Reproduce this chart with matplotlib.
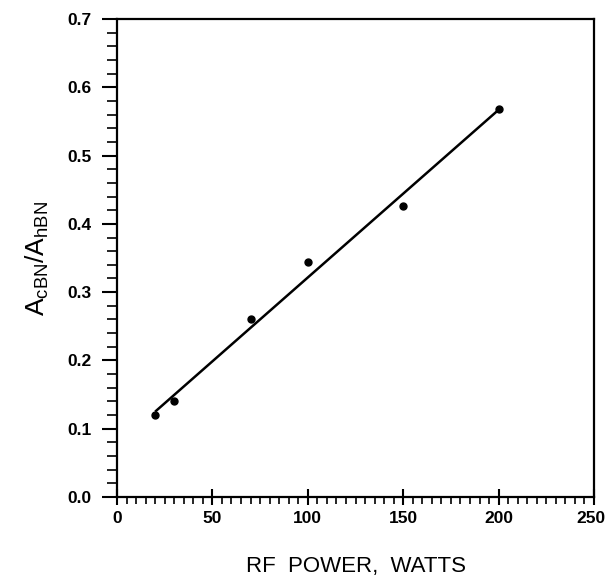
import matplotlib
matplotlib.use("Agg")
import matplotlib.pyplot as plt
import matplotlib.transforms as mtransforms
from matplotlib.ticker import MultipleLocator

rf_power = [20, 30, 70, 100, 150, 200]
ratio = [0.120, 0.140, 0.260, 0.344, 0.426, 0.568]
fit_x = [20, 200]
fit_y = [0.125, 0.567]

x_ticks = [0, 50, 100, 150, 200, 250]
y_ticks = [0.0, 0.1, 0.2, 0.3, 0.4, 0.5, 0.6, 0.7]

plt.rcParams['font.family'] = ['Liberation Sans', 'DejaVu Sans']

fig = plt.figure(figsize=(6.07, 5.82), dpi=100)
ax = fig.add_axes([117/607, 1-497/582, (594-117)/607, (497-19)/582])

ax.plot(fit_x, fit_y, color='black', lw=1.8, solid_capstyle='butt')
ax.plot(rf_power, ratio, 'o', color='black', ms=5)

ax.set_xlim(0, 250)
ax.set_ylim(0, 0.7)
ax.set_xticks(x_ticks)
ax.set_yticks(y_ticks)
ax.set_xticklabels([str(v) for v in x_ticks], fontweight='bold', fontsize=12.5)
ax.set_yticklabels([f"{v:.1f}" for v in y_ticks], fontweight='bold', fontsize=12.5)
ax.xaxis.set_minor_locator(MultipleLocator(5))
ax.yaxis.set_minor_locator(MultipleLocator(0.02))

ax.tick_params(axis='x', which='major', direction='inout', length=12, width=1.5, pad=4)
ax.tick_params(axis='x', which='minor', direction='out', length=5, width=1.2)
ax.tick_params(axis='y', which='major', direction='out', length=11, width=1.5, pad=7)
ax.tick_params(axis='y', which='minor', direction='out', length=7, width=1.2)

# nudge the last x tick label so it stays inside the canvas
last = ax.get_xticklabels()[-1]
last.set_transform(last.get_transform() + mtransforms.ScaledTranslation(-3/100, 0, fig.dpi_scale_trans))

for s in ax.spines.values():
    s.set_linewidth(1.6)

ax.set_xlabel('RF  POWER,  WATTS', fontsize=16, labelpad=22)
ax.set_ylabel(r'$\mathregular{A_{cBN}/A_{hBN}}$', fontsize=19, labelpad=12)

fig.savefig('out.png', dpi=100)
